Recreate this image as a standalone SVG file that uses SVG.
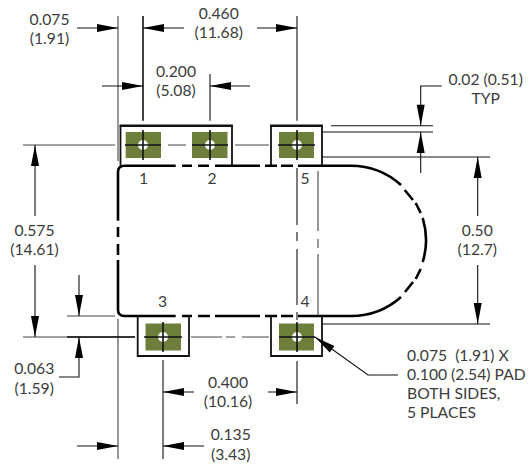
<svg xmlns="http://www.w3.org/2000/svg" width="528" height="465" viewBox="0 0 528 465">
<style>
.l{fill:none;stroke:#111;stroke-width:1.1}
.g{fill:none;stroke:#444;stroke-width:1.1}
.b{fill:none;stroke:#111;stroke-width:1.6}
.o{fill:none;stroke:#000;stroke-width:2.6}
.box{fill:none;stroke:#111;stroke-width:1.8}
.top{fill:none;stroke:#111;stroke-width:2.4}
.pad{fill:#6e7f3c}
.hole{fill:#fff}
text{font-family:Lato,"Liberation Sans",sans-serif;font-size:15.7px;fill:#3c3c3c;white-space:pre}
.m{text-anchor:middle}
</style>
<defs>
<path id="ah" d="M0 0L-21 -4V4Z" fill="#000"/>
</defs>
<rect width="528" height="465" fill="#fff"/>
<g id="pad1"><path class="box" d="M120.500 165.700V125.700M232 125.700V165.700"/><path class="top" d="M119.600 125.700H232.900"/><rect class="pad" x="125.700" y="132" width="35.300" height="26"/><circle class="hole" cx="143" cy="145" r="5"/><text class="m" x="143.500" y="183.700">1</text></g>
<g id="pad2"><rect class="pad" x="192" y="132" width="35.500" height="26"/><circle class="hole" cx="210" cy="145" r="5"/><text class="m" x="212" y="183.700">2</text></g>
<g id="pad5"><path class="box" d="M271 165.700V125.700M322 125.700V165.700"/><path class="top" d="M270.100 125.700H322.900"/><rect class="pad" x="279" y="132" width="35" height="26"/><circle class="hole" cx="297" cy="145" r="5"/><text class="m" x="305" y="183.700">5</text></g>
<g id="pad3"><path class="box" d="M137.700 316V356H189V316"/><rect class="pad" x="145.500" y="323.500" width="35.500" height="27"/><circle class="hole" cx="163" cy="337" r="5"/><text class="m" x="162.500" y="306.500">3</text></g>
<g id="pad4"><path class="box" d="M271 316V356H322V316"/><rect class="pad" x="279" y="323.500" width="35" height="27"/><circle class="hole" cx="297" cy="337" r="5"/><text class="m" x="305" y="306.500">4</text></g>
<g id="outline">
<path class="o" d="M175.700 165.700H124.500Q118 165.700 118 172V220.700M118 227V237M118 244V255M118 260V310Q118 316 124.500 316H175.700"/>
<path class="o" d="M182 165.700H192M198 165.700H209M215 165.700H260M265 165.700H277M281 165.700H293M298 165.700H350.700A75 75 0 0 1 401 185M404.700 190L413 200M415.700 203L420.700 213M422.700 218A75 75 0 0 1 422.700 262M420.700 269L415.700 279M413 282L405 292M401 297A75 75 0 0 1 350.700 316H298M293 316H281M277 316H265M260 316H215M210 316H198M192 316H182"/>
</g>
<g id="connectors">
<path class="g" d="M118 16V161M118 319V459M23 145H115M168 145H186M235 145H269M23 337H135M191 337H222M226 337H235M242 337H269M67 316H115M318 171V231M318 239V248M318 254V316"/>
<path class="b" d="M143 16V120.700M143 130V160M125 145H161M192 145H228M210 130V160M278 145H315M297 130V160M144 337H182M163 322V352M279 337H315M297 322V352M67 337H135"/>
<path class="l" d="M210 74V120.700M297 16V120.700M297 168V225M297 232V241M297 249V305M297 312V320M163 360V459M297 361V404"/>
<path class="l" d="M77 28H118M143 28H184M257 28H297M102 86H143M210 86H250M194 392H163M268 392H297M77 446H118M163 446H204"/>
<path class="l" d="M35 216V145M35 265V337M79 275V316M79 337V377H59M441.700 86H420.700V125.700M420.700 132V173M477.700 216V157M477.700 265V324M331 125.700H433M322 132H433M322 157H490M322 324H490M315 337L368 375H398"/>
<use href="#ah" transform="translate(118 28)"/>
<use href="#ah" transform="translate(143 28) rotate(180)"/>
<use href="#ah" transform="translate(297 28)"/>
<use href="#ah" transform="translate(143 86)"/>
<use href="#ah" transform="translate(210 86) rotate(180)"/>
<use href="#ah" transform="translate(35 145) rotate(-90)"/>
<use href="#ah" transform="translate(35 337) rotate(90)"/>
<use href="#ah" transform="translate(79 316) rotate(90)"/>
<use href="#ah" transform="translate(79 337) rotate(-90)"/>
<use href="#ah" transform="translate(420.700 125.700) rotate(90)"/>
<use href="#ah" transform="translate(420.700 132) rotate(-90)"/>
<use href="#ah" transform="translate(477.700 157) rotate(-90)"/>
<use href="#ah" transform="translate(477.700 324) rotate(90)"/>
<use href="#ah" transform="translate(163 392) rotate(180)"/>
<use href="#ah" transform="translate(297 392)"/>
<use href="#ah" transform="translate(118 446)"/>
<use href="#ah" transform="translate(163 446) rotate(180)"/>
<use href="#ah" transform="translate(315 337) rotate(215.600)"/>
</g>
<g id="labels">
<text class="m" x="49.500" y="25">0.075</text><text class="m" x="49.500" y="44">(1.91)</text>
<text class="m" x="218.700" y="19">0.460</text><text class="m" x="218.700" y="38">(11.68)</text>
<text class="m" x="176" y="77">0.200</text><text class="m" x="176" y="96">(5.08)</text>
<text class="m" x="34.500" y="236">0.575</text><text class="m" x="34.500" y="255">(14.61)</text>
<text class="m" x="477.300" y="236">0.50</text><text class="m" x="477.300" y="254.700">(12.7)</text>
<text class="m" x="485.700" y="85">0.02 (0.51)</text><text class="m" x="485.700" y="103.500">TYP</text>
<text class="m" x="34.200" y="374">0.063</text><text class="m" x="34.200" y="393.500">(1.59)</text>
<text class="m" x="228" y="388">0.400</text><text class="m" x="228" y="407">(10.16)</text>
<text class="m" x="230.700" y="440.300">0.135</text><text class="m" x="230.700" y="459.500">(3.43)</text>
<text x="407" y="360.500">0.075  (1.91) X</text><text x="407" y="379.500">0.100 (2.54) PAD</text><text x="407" y="398.700">BOTH SIDES,</text><text x="407" y="417.700">5 PLACES</text>
</g>
</svg>
